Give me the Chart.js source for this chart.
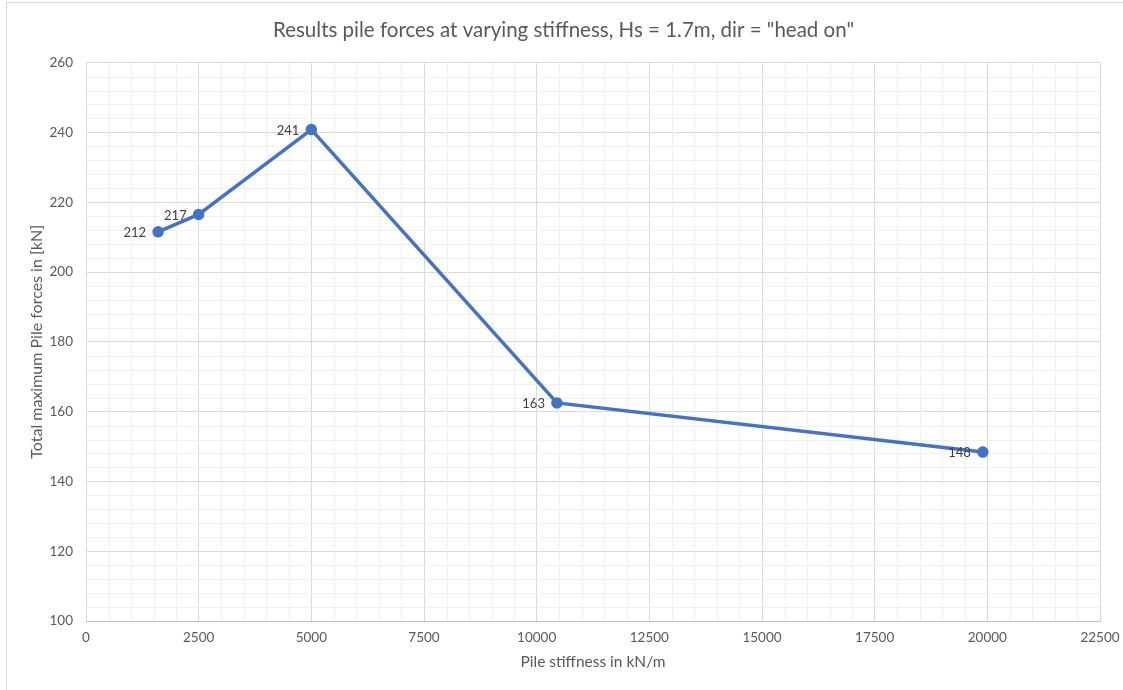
<!DOCTYPE html>
<html>
<head>
<meta charset="utf-8">
<script src="https://cdn.jsdelivr.net/npm/chart.js@4"></script>
<style>
  html, body { margin: 0; padding: 0; background: #fff; }
  #wrap { width: 1123px; height: 690px; position: relative; }
</style>
</head>
<body>
<div id="wrap"><canvas id="pileChart" width="1123" height="690"></canvas></div>
<script>
// values
const stiffness = [1600, 2500, 5000, 10450, 19900];
const pileForces = [211.5, 216.5, 240.8, 162.5, 148.4];
const pointLabels = ["212", "217", "241", "163", "148"];

const titleText = 'Results pile forces at varying stiffness, Hs = 1.7m, dir = "head on"';
const xTitle = "Pile stiffness in kN/m";
const yTitle = "Total maximum Pile forces in [kN]";

const fontFamily = "Lato, 'Open Sans', sans-serif";
const textGrey = "#595959";

// excel style minor grid (drawn from the chart scales)
const minorGrid = {
    id: "minorGrid",
    beforeDatasetsDraw(chart) {
        const { ctx, chartArea: a, scales: { x, y } } = chart;
        ctx.save();
        ctx.strokeStyle = "#f0f0f0";
        ctx.lineWidth = 1;
        ctx.beginPath();
        for (let v = 500; v < 22500; v += 500) {
            if (v % 2500 === 0) continue;
            const px = Math.round(x.getPixelForValue(v)) + 0.5;
            ctx.moveTo(px, a.top);
            ctx.lineTo(px, a.bottom);
        }
        for (let v = 104; v < 260; v += 4) {
            if (v % 20 === 0) continue;
            const py = Math.round(y.getPixelForValue(v)) + 0.5;
            ctx.moveTo(a.left, py);
            ctx.lineTo(a.right, py);
        }
        ctx.stroke();
        ctx.restore();
    }
};

// labels to the left of each point
const pointLabelPlugin = {
    id: "pointLabels",
    afterDatasetsDraw(chart) {
        const ctx = chart.ctx;
        const meta = chart.getDatasetMeta(0);
        ctx.save();
        ctx.font = "13px " + fontFamily;
        ctx.fillStyle = "#404040";
        ctx.textAlign = "right";
        ctx.textBaseline = "middle";
        meta.data.forEach((pt, i) => {
            ctx.fillText(pointLabels[i], pt.x - 12, pt.y + 1);
        });
        ctx.restore();
    }
};

const frame = {
    id: "frame",
    afterDraw(chart) {
        const ctx = chart.ctx;
        ctx.save();
        ctx.strokeStyle = "#d9d9d9";
        ctx.lineWidth = 1;
        ctx.strokeRect(6.5, 2.5, 1130, 700);
        ctx.restore();
    }
};

new Chart(document.getElementById("pileChart"), {
    type: "scatter",
    data: {
        datasets: [{
            data: stiffness.map((s, i) => ({ x: s, y: pileForces[i] })),
            showLine: true,
            borderColor: "#4472C4",
            backgroundColor: "#4472C4",
            borderWidth: 3.5,
            pointRadius: 4,
            pointHoverRadius: 4,
            tension: 0
        }]
    },
    plugins: [minorGrid, pointLabelPlugin, frame],
    options: {
        responsive: false,
        animation: false,
        layout: { padding: { left: 27, right: 23, top: 0, bottom: 19 } },
        plugins: {
            legend: { display: false },
            tooltip: { enabled: false },
            title: {
                display: true,
                text: titleText,
                color: textGrey,
                font: { family: fontFamily, size: 20.5, weight: "normal" },
                padding: { top: 18, bottom: 20 }
            }
        },
        scales: {
            x: {
                type: "linear",
                min: 0,
                max: 22500,
                afterFit(scale) {
                    scale.height = 50;
                    scale.paddingLeft = 0;
                    scale.paddingRight = 0;
                },
                ticks: {
                    stepSize: 2500,
                    color: textGrey,
                    padding: 9,
                    maxRotation: 0,
                    font: { family: fontFamily, size: 13.5 },
                    callback: (v) => String(v)
                },
                grid: { color: "#d9d9d9", drawTicks: false },
                border: { color: "#bfbfbf" },
                title: {
                    display: true,
                    text: xTitle,
                    color: textGrey,
                    font: { family: fontFamily, size: 15.5 },
                    padding: 0
                }
            },
            y: {
                min: 100,
                max: 260,
                afterFit(scale) { scale.width = 59; },
                ticks: {
                    stepSize: 20,
                    color: textGrey,
                    padding: 13,
                    font: { family: fontFamily, size: 13.5 }
                },
                grid: { color: "#d9d9d9", drawTicks: false },
                border: { color: "#d9d9d9" },
                title: {
                    display: true,
                    text: yTitle,
                    color: textGrey,
                    font: { family: fontFamily, size: 16 },
                    padding: 0
                }
            }
        }
    }
});
</script>
</body>
</html>
